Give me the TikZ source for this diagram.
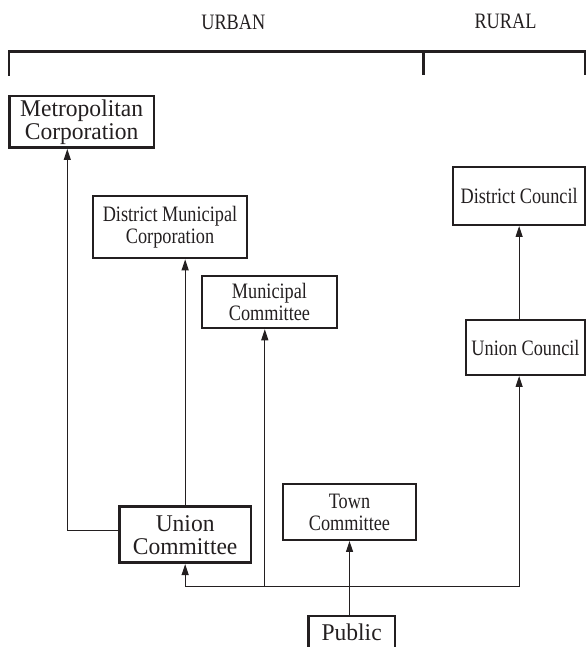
\documentclass[tikz,border=0pt]{standalone}
\usepackage{fontspec}
\setmainfont{Liberation Serif}
\newfontfamily\narrowserif[FakeStretch=0.83]{Liberation Serif}
\newfontfamily\wideserif[FakeStretch=0.98]{Liberation Serif}
\usetikzlibrary{arrows.meta}
\definecolor{ink}{HTML}{231F20}
\begin{document}
\begin{tikzpicture}[x=1pt,y=-1pt,
  every node/.style={text=ink},
  plainbox/.style={draw=ink, line width=1.9pt, inner sep=0pt, align=center,
    font=\narrowserif\fontsize{22}{22}\selectfont},
  boldbox/.style={draw=ink, line width=2.6pt, inner sep=0pt, align=center,
    font=\wideserif\fontsize{24}{23}\selectfont},
  heading/.style={inner sep=0pt, font=\narrowserif\fontsize{22}{22}\selectfont},
  link/.style={draw=ink, line width=1.1pt},
  uplink/.style={link, -{Triangle[width=7pt,length=11pt]}},
  bracket/.style={draw=ink, line width=2.2pt}
]
\useasboundingbox (0,0) rectangle (586,647);
\clip (0,0) rectangle (586,647);

% headings and the bracket spanning both sectors
\node[heading] (urban) at (233.3,22.5) {URBAN};
\node[heading] (rural) at (505.5,21) {RURAL};
\draw[bracket] (9.3,76) -- (9.3,51.5) -- (585,51.5) -- (585,75.5);
\draw[bracket] (423.5,51.5) -- (423.5,75.5);

% urban bodies
\node[boldbox, minimum width=144.7pt, minimum height=51.7pt] (metro) at (81.65,121.85) {Metropolitan\\Corporation};
\node[plainbox, minimum width=154.6pt, minimum height=62.6pt] (dmc) at (170,227) {District Municipal\\Corporation};
\node[plainbox, minimum width=134.4pt, minimum height=52.3pt] (mun) at (269.5,302.15) {Municipal\\Committee};
\node[boldbox, minimum width=131.7pt, minimum height=56pt] (ucom) at (185.15,534.7) {Union\\Committee};
\node[plainbox, minimum width=132.4pt, minimum height=56pt] (town) at (349.5,512) {Town\\Committee};

% rural bodies
\node[plainbox, minimum width=131.7pt, minimum height=58.3pt] (dc) at (519.15,195.85) {District Council};
\node[plainbox, minimum width=119pt, minimum height=55pt] (uc) at (525.5,347.5) {Union Council};

% the electorate
\node[boldbox, minimum width=86.7pt, minimum height=33pt] (public) at (351.65,632.5) {Public};

% connectors
\coordinate (mcorner) at (67.3,530.7);
\draw[uplink] ([yshift=4pt]ucom.west) -- (mcorner) -- (mcorner |- metro.south);
\draw[uplink] (ucom.north) -- (ucom.north |- dmc.south);

\coordinate (busL) at (ucom.south |- 0,586.5);
\coordinate (busM) at (264.8,586.5);
\coordinate (busR) at (dc.south |- 0,586.5);
\draw[link] (busL) -- (busR);
\draw[uplink] (busL) -- (ucom.south);
\draw[uplink] (busM) -- (busM |- mun.south);
\draw[uplink] (busR) -- (busR |- uc.south);
\draw[uplink] (busR |- uc.north) -- (dc.south);
\draw[uplink] (town.south |- public.north) -- (town.south);
\end{tikzpicture}
\end{document}
